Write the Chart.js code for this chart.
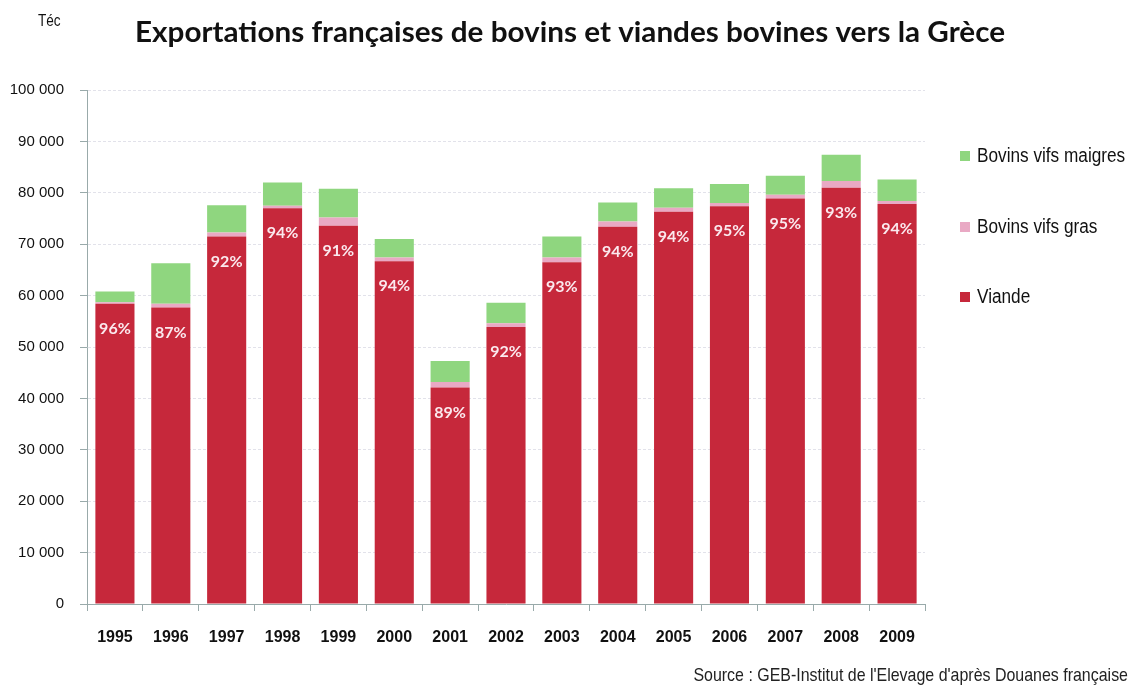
<!DOCTYPE html>
<html>
<head>
<meta charset="utf-8">
<script src="https://cdn.jsdelivr.net/npm/chart.js@4"></script>
<style>
  body { margin: 0; background: #fff; }
  #wrap { width: 1130px; height: 688px; }
</style>
</head>
<body>
<div id="wrap"><canvas id="chart" width="1130" height="688"></canvas></div>
<script>
// Données (tonnes équivalent carcasse)
const years = ['1995', '1996', '1997', '1998', '1999', '2000', '2001', '2002', '2003', '2004', '2005', '2006', '2007', '2008', '2009'];
const viande = [58400, 57700, 71500, 77000, 73600, 66700, 42100, 53900, 66500, 73400, 76300, 77400, 78900, 81000, 77800];
const vifsGras = [300, 700, 800, 500, 1600, 700, 1100, 700, 900, 1000, 800, 600, 700, 1300, 600];
const vifsMaigres = [2100, 7900, 5300, 4500, 5600, 3600, 4100, 4000, 4100, 3700, 3800, 3700, 3700, 5100, 4200];
const partViande = ['96%', '87%', '92%', '94%', '91%', '94%', '89%', '92%', '93%', '94%', '94%', '95%', '95%', '93%', '94%'];

const colors = {
    viande: '#c6283b',
    gras: '#e9a9c4',
    maigres: '#8fd67f'
};

// pas de police "narrow" installée : on compresse le texte horizontalement
function narrowText(ctx, text, x, y, sx, align) {
    const w = ctx.measureText(text).width * sx;
    let left = x;
    if (align === 'right') left = x - w;
    else if (align === 'center') left = x - w / 2;
    ctx.save();
    ctx.textAlign = 'left';
    ctx.translate(left, y);
    ctx.scale(sx, 1);
    ctx.fillText(text, 0, 0);
    ctx.restore();
}

// titre, légende, source et pourcentages dessinés à la main
const decor = {
    id: 'decor',
    afterDraw(chart) {
        const ctx = chart.ctx;
        ctx.save();
        ctx.textBaseline = 'middle';

        // titre
        ctx.fillStyle = '#111';
        ctx.font = 'bold 28px Lato, "Open Sans", sans-serif';
        const title = 'Exportations françaises de bovins et viandes bovines vers la Grèce';
        narrowText(ctx, title, 135, 33, 870 / ctx.measureText(title).width, 'left');

        ctx.font = '16px "Liberation Sans", Arial, sans-serif';
        narrowText(ctx, 'Téc', 38, 22, 0.85, 'left');

        // légende (ordre inverse)
        const items = chart.data.datasets.slice().reverse();
        const ys = [156, 227, 297];
        ctx.font = '20px "Liberation Sans", Arial, sans-serif';
        items.forEach((ds, i) => {
            ctx.fillStyle = ds.backgroundColor;
            ctx.fillRect(960, ys[i] - 5, 10, 10);
            ctx.fillStyle = '#111';
            narrowText(ctx, ds.label, 977, ys[i], 0.86, 'left');
        });

        // source
        ctx.font = '19px "Liberation Sans", Arial, sans-serif';
        ctx.fillStyle = '#222';
        narrowText(ctx, "Source : GEB-Institut de l'Elevage d'après Douanes française", 1128, 676, 0.84, 'right');

        // part de la viande
        const meta = chart.getDatasetMeta(0);
        ctx.textAlign = 'center';
        ctx.font = 'bold 16px Lato, sans-serif';
        ctx.fillStyle = '#fbe9ee';
        meta.data.forEach((bar, i) => {
            ctx.fillText(partViande[i], bar.x, bar.y + 25);
        });

        ctx.restore();
    }
};

new Chart(document.getElementById('chart').getContext('2d'), {
    type: 'bar',
    data: {
        labels: years,
        datasets: [
            { label: 'Viande', data: viande, backgroundColor: colors.viande },
            { label: 'Bovins vifs gras', data: vifsGras, backgroundColor: colors.gras },
            { label: 'Bovins vifs maigres', data: vifsMaigres, backgroundColor: colors.maigres }
        ]
    },
    options: {
        responsive: false,
        animation: false,
        layout: { padding: { top: 90, right: 205, left: 0, bottom: 0 } },
        datasets: { bar: { categoryPercentage: 1, barPercentage: 0.7 } },
        scales: {
            x: {
                stacked: true,
                grid: { drawOnChartArea: false, tickLength: 7, color: '#9aa' },
                border: { color: '#9aa' },
                ticks: { color: '#111', padding: 17, font: { family: 'Liberation Sans', size: 16, weight: 'bold' } },
                afterFit(scale) { scale.height = 84; }
            },
            y: {
                stacked: true,
                min: 0,
                max: 100000,
                grid: { color: '#e2e2ea', tickColor: '#9aa', tickLength: 7 },
                border: { color: '#9aa', dash: [3, 2] },
                ticks: {
                    stepSize: 10000,
                    color: '#111',
                    padding: 16,
                    font: { family: 'Liberation Sans', size: 15 },
                    callback: v => String(v).replace(/\B(?=(\d{3})+(?!\d))/g, ' ')
                },
                afterFit(scale) { scale.width = 87; }
            }
        },
        plugins: {
            legend: { display: false },
            tooltip: { enabled: false }
        }
    },
    plugins: [decor]
});
</script>
</body>
</html>
